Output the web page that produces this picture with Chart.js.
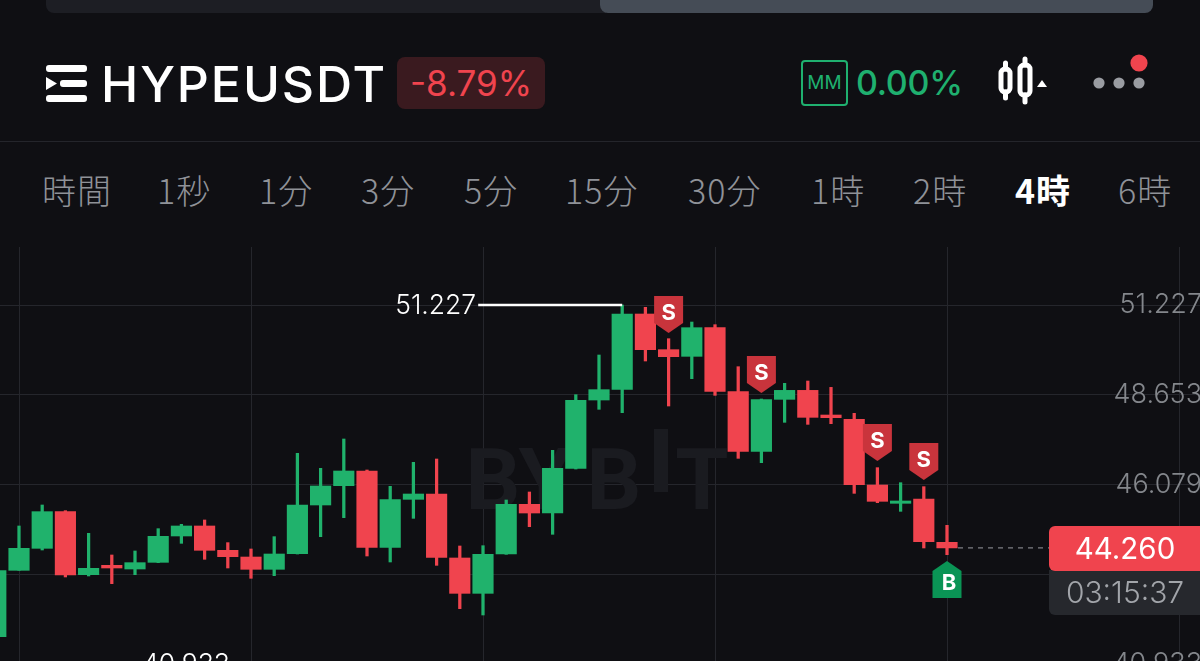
<!DOCTYPE html>
<html lang="ja">
<head>
  <meta charset="UTF-8" />
  <title>HYPEUSDT</title>
  <script src="https://cdn.jsdelivr.net/npm/chart.js"></script>
  <style>
    html, body { margin: 0; padding: 0; width: 1200px; height: 661px; overflow: hidden; background: #0f0f13; }
    body { position: relative; font-family: Inter, "Noto Sans", sans-serif; }
    .abs { position: absolute; white-space: nowrap; }
    .scroll-a { left: 46px; top: 0; width: 560px; height: 13px; background: #1d1e24; border-radius: 0 0 0 8px; }
    .scroll-b { left: 600px; top: 0; width: 553px; height: 13px; background: #454c56; border-radius: 0 0 8px 8px; }
    .title { left: 101px; top: 54px; font-size: 50px; line-height: 60px; font-weight: 500; color: #fff; letter-spacing: 1.9px; }
    .badge { left: 397px; top: 57px; width: 148px; height: 52px; line-height: 52px; text-align: center; background: #3a1a1f; border-radius: 8px; color: #f0444e; font-size: 35px; }
    .mm { left: 801px; top: 60px; width: 43px; height: 42px; line-height: 42px; text-align: center; border: 2.5px solid #1fb06f; border-radius: 4px; color: #1fb06f; font-size: 19px; }
    .pct { left: 856px; top: 60px; line-height: 46px; font-size: 34px; font-weight: 500; color: #1fb06f; letter-spacing: -0.3px; }
    .sep { left: 0; top: 141px; width: 1200px; height: 1px; background: #24252b; }
    .tab { top: 168px; line-height: 44px; font-family: "Noto Sans CJK JP", sans-serif; font-size: 34px; font-weight: 300; letter-spacing: 1px; color: #8f9298; }
    .tab.active { color: #fff; font-weight: 700; }
    #chart { position: absolute; left: 0; top: 245px; }
  </style>
</head>
<body>
  <div class="abs scroll-a"></div>
  <div class="abs scroll-b"></div>

  <!-- header -->
  <svg class="abs" style="left:46px;top:65px" width="42" height="38">
    <rect x="0" y="0" width="41" height="7" rx="3" fill="#fff"/>
    <rect x="14" y="15" width="27" height="7" rx="3" fill="#fff"/>
    <rect x="0" y="30" width="41" height="7" rx="3" fill="#fff"/>
    <polygon points="0,12 11,18.5 0,25" fill="#fff"/>
  </svg>
  <div class="abs title">HYPEUSDT</div>
  <div class="abs badge">-8.79%</div>
  <div class="abs mm">MM</div>
  <div class="abs pct">0.00%</div>
  <svg class="abs" style="left:995px;top:54px" width="155" height="52">
    <g fill="none" stroke="#fff" stroke-width="5">
      <rect x="6" y="15" width="9" height="23" rx="4"/>
      <rect x="25" y="11" width="10" height="30" rx="4"/>
    </g>
    <g stroke="#fff" stroke-width="5" stroke-linecap="round">
      <line x1="10.5" y1="9" x2="10.5" y2="15"/><line x1="10.5" y1="38" x2="10.5" y2="44"/>
      <line x1="30" y1="5" x2="30" y2="11"/><line x1="30" y1="41" x2="30" y2="48"/>
    </g>
    <polygon points="42,33 52,33 47,26" fill="#fff"/>
    <circle cx="104" cy="29" r="5.6" fill="#9a9ca2"/>
    <circle cx="124" cy="29" r="5.6" fill="#9a9ca2"/>
    <circle cx="144" cy="29" r="5.6" fill="#9a9ca2"/>
    <circle cx="144" cy="9" r="8.6" fill="#f0444e"/>
  </svg>
  <div class="abs sep"></div>

  <div id="tabs"></div>
  <canvas id="chart" width="1200" height="455"></canvas>

  <script>
    // interval tabs
    const tabLabels = ['時間', '1秒', '1分', '3分', '5分', '15分', '30分', '1時', '2時', '4時', '6時'];
    const tabLefts = [42, 157, 259, 361, 464, 565, 688, 811, 913, 1015, 1118];
    const activeTab = '4時';

    // candles, the x value is the bar number on the time axis
    const candleX = [-1, 0, 1, 2, 3, 4, 5, 6, 7, 8, 9, 10, 11, 12, 13, 14, 15, 16, 17, 18, 19, 20,
      21, 22, 23, 24, 25, 26, 27, 28, 29, 30, 31, 32, 33, 34, 35, 36, 37, 38, 39, 40];
    const open = [41.715, 43.617, 44.248, 45.300, 43.493, 43.760, 43.655, 43.846, 44.602, 44.889, 44.191, 43.999, 43.646, 44.095,
      45.491, 46.045, 46.466, 44.277, 45.653, 45.806, 43.971, 42.957, 44.085, 45.510, 45.261, 46.542, 48.502, 48.808, 50.969,
      49.946, 49.755, 50.577, 48.741, 47.030, 48.521, 48.779, 48.072, 47.948, 46.064, 45.539, 45.663, 44.420];
    const close = [43.607, 44.248, 45.300, 43.483, 43.674, 43.684, 43.837, 44.592, 44.889, 44.191, 44.009, 43.646, 44.085, 45.491,
      46.036, 46.466, 44.277, 45.644, 45.806, 43.990, 42.957, 44.076, 45.510, 45.261, 46.542, 48.493, 48.799, 50.969, 49.946,
      49.745, 50.577, 48.751, 47.030, 48.512, 48.779, 48.005, 47.996, 46.074, 45.596, 45.606, 44.439, 44.260];
    const high = [43.607, 44.889, 45.491, 45.328, 44.678, 44.057, 44.172, 44.812, 44.936, 45.061, 44.411, 44.229, 44.583, 46.973,
      46.542, 47.384, 46.495, 46.026, 46.714, 46.810, 44.315, 44.324, 45.634, 45.864, 47.059, 48.655, 49.793, 51.227, 51.160,
      50.261, 50.739, 50.663, 49.458, 48.531, 48.980, 49.047, 48.865, 48.120, 46.562, 46.131, 46.017, 44.908];
    const low = [41.715, 43.617, 44.200, 43.426, 43.455, 43.235, 43.493, 43.837, 44.391, 43.933, 43.684, 43.388, 43.464, 44.085,
      44.583, 45.128, 44.028, 43.856, 45.108, 43.760, 42.518, 42.336, 44.076, 44.869, 44.650, 46.523, 48.235, 48.139, 49.621,
      48.330, 49.114, 48.636, 46.829, 46.705, 47.862, 47.804, 47.823, 45.825, 45.558, 45.309, 44.258, 44.066];

    const yTickValues = [51.227, 48.653, 46.079, 43.505, 40.933];

    // trade marks, price is where the tip of the flag points
    const sellX = [28, 32, 37, 39];
    const sellPrice = [50.424, 48.703, 46.753, 46.208];
    const buyX = [40];
    const buyPrice = [43.885];

    const peakX = 26;
    const peakPrice = 51.227;
    const lowX = 7.2;
    const lowPrice = 40.933;
    const lastPrice = 44.260;
    const countdown = '03:15:37';

    const UP = '#20b26c';
    const DOWN = '#f0444e';
    const GRID = '#25262c';

    const tabs = document.getElementById('tabs');
    tabLabels.forEach((label, i) => {
      const el = document.createElement('div');
      el.className = 'abs tab' + (label === activeTab ? ' active' : '');
      el.style.left = tabLefts[i] + 'px';
      el.textContent = label;
      tabs.appendChild(el);
    });

    function roundedBox(ctx, x, y, w, h, radii, color) {
      ctx.fillStyle = color;
      ctx.beginPath();
      ctx.roundRect(x, y, w, h, radii);
      ctx.fill();
    }

    const watermark = {
      id: 'watermark',
      beforeDatasetsDraw(chart) {
        const ctx = chart.ctx;
        ctx.save();
        ctx.fillStyle = '#1a1b20';
        ctx.font = 'bold 86px Roboto';
        ctx.textAlign = 'center';
        ctx.textBaseline = 'alphabetic';
        // canvas starts at y 245
        ctx.fillText('B', 493, 264);
        ctx.fillText('Y', 545, 264);
        ctx.fillText('B', 614, 264);
        ctx.fillText('T', 702, 264);
        ctx.fillRect(654, 184, 14, 63);
        ctx.restore();
      }
    };

    const overlays = {
      id: 'overlays',
      afterDatasetsDraw(chart) {
        const ctx = chart.ctx;
        const x = chart.scales.x;
        const y = chart.scales.y;
        ctx.save();
        ctx.textAlign = 'center';
        ctx.textBaseline = 'middle';

        // S flags hang above the candle, B flag stands below it
        sellX.forEach((v, i) => {
          const px = x.getPixelForValue(v);
          const tip = y.getPixelForValue(sellPrice[i]);
          ctx.fillStyle = '#c9343c';
          ctx.beginPath();
          ctx.moveTo(px - 14.5, tip - 37);
          ctx.lineTo(px + 14.5, tip - 37);
          ctx.lineTo(px + 14.5, tip - 10);
          ctx.lineTo(px, tip);
          ctx.lineTo(px - 14.5, tip - 10);
          ctx.closePath();
          ctx.fill();
          ctx.fillStyle = '#fff';
          ctx.font = 'bold 22px Inter';
          ctx.fillText('S', px, tip - 20);
        });
        buyX.forEach((v, i) => {
          const px = x.getPixelForValue(v);
          const tip = y.getPixelForValue(buyPrice[i]);
          ctx.fillStyle = '#0a9455';
          ctx.beginPath();
          ctx.moveTo(px, tip);
          ctx.lineTo(px + 14.5, tip + 10);
          ctx.lineTo(px + 14.5, tip + 37);
          ctx.lineTo(px - 14.5, tip + 37);
          ctx.lineTo(px - 14.5, tip + 10);
          ctx.closePath();
          ctx.fill();
          ctx.fillStyle = '#fff';
          ctx.font = 'bold 22px Inter';
          ctx.fillText('B', px + 2, tip + 22);
        });

        // high and low of the visible range
        const peakPx = x.getPixelForValue(peakX);
        const peakY = y.getPixelForValue(peakPrice);
        ctx.strokeStyle = '#fff';
        ctx.lineWidth = 2.5;
        ctx.beginPath();
        ctx.moveTo(peakPx - 144, peakY);
        ctx.lineTo(peakPx, peakY);
        ctx.stroke();
        ctx.fillStyle = '#fff';
        ctx.font = '300 26.5px Inter';
        ctx.textAlign = 'right';
        ctx.fillText(peakPrice.toFixed(3), peakPx - 146, peakY + 1);
        ctx.textAlign = 'center';
        ctx.fillText(lowPrice.toFixed(3), x.getPixelForValue(lowX), y.getPixelForValue(lowPrice) + 1);

        // last price line and tag
        const lastY = y.getPixelForValue(lastPrice);
        ctx.strokeStyle = '#9a9ca2';
        ctx.lineWidth = 1;
        ctx.setLineDash([5, 5]);
        ctx.beginPath();
        ctx.moveTo(x.getPixelForValue(candleX[candleX.length - 1]) + 11, lastY);
        ctx.lineTo(1049, lastY);
        ctx.stroke();
        ctx.setLineDash([]);

        roundedBox(ctx, 1049, lastY + 22, 151, 45, [0, 0, 0, 6], '#26282d');
        roundedBox(ctx, 1049, lastY - 22, 151, 45, [6, 0, 0, 6], DOWN);
        ctx.fillStyle = '#fff';
        ctx.font = '400 29.5px Inter';
        ctx.fillText(lastPrice.toFixed(3), 1125, lastY + 2);
        ctx.fillStyle = '#a2a5aa';
        ctx.font = '300 30px Inter';
        ctx.fillText(countdown, 1125, lastY + 46);
        ctx.restore();
      }
    };

    const colors = open.map((o, i) => (close[i] >= o ? UP : DOWN));

    new Chart(document.getElementById('chart').getContext('2d'), {
      type: 'bar',
      data: {
        datasets: [
          {
            label: 'wick',
            data: candleX.map((v, i) => ({ x: v, y: [low[i], high[i]] })),
            backgroundColor: colors,
            barThickness: 2.6,
            grouped: false,
            order: 2
          },
          {
            label: 'body',
            data: candleX.map((v, i) => ({ x: v, y: [open[i], close[i]] })),
            backgroundColor: colors,
            barThickness: 20.5,
            grouped: false,
            order: 1
          }
        ]
      },
      options: {
        responsive: false,
        animation: false,
        layout: { padding: 0, autoPadding: false },
        plugins: { legend: { display: false }, tooltip: { enabled: false } },
        scales: {
          x: {
            type: 'linear',
            offset: false,
            min: -0.819,
            max: 50.905,
            border: { display: false },
            grid: { color: GRID, drawTicks: false, offset: false },
            ticks: { display: false, stepSize: 10, includeBounds: false },
            afterFit(scale) { scale.height = 0; }
          },
          y: {
            position: 'right',
            // the tick padding below leaves 2px top and bottom of the plot
            min: 39.955,
            max: 52.891,
            border: { display: false },
            grid: { color: GRID, drawTicks: false },
            afterBuildTicks(scale) { scale.ticks = yTickValues.map(value => ({ value })); },
            afterFit(scale) { scale.width = 0; },
            ticks: {
              mirror: true,
              padding: 2,
              color: '#84878c',
              // zero line height keeps the labels from adding layout padding
              font: { family: 'Inter', size: 27, weight: 300, lineHeight: 0 },
              callback: value => value.toFixed(3)
            }
          }
        }
      },
      plugins: [watermark, overlays]
    });
  </script>
</body>
</html>
